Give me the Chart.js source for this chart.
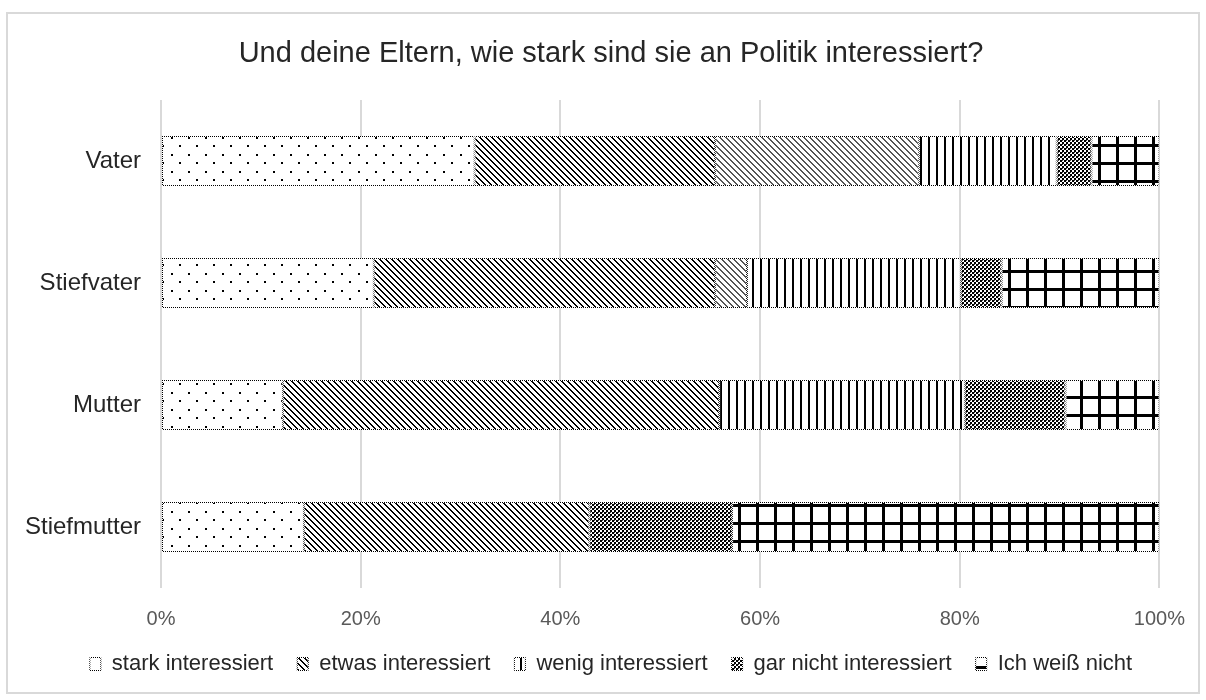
<!DOCTYPE html>
<html>
<head>
<meta charset="utf-8">
<script src="https://cdn.jsdelivr.net/npm/chart.js@4.4.1/dist/chart.umd.min.js"></script>
<style>
  html, body { margin: 0; padding: 0; background: #ffffff; }
  #frame { position: absolute; left: 6px; top: 12px; width: 1194px; height: 682px; border: 2px solid #d9d9d9; box-sizing: border-box; }
  #wrap { position: absolute; left: 0; top: 0; width: 1206px; height: 700px; }
</style>
</head>
<body>
<div id="frame"></div>
<div id="wrap"><canvas id="c" width="1206" height="700"></canvas></div>
<script>
// ---- data (percent of respondents) ----
const categories = ['Vater', 'Stiefvater', 'Mutter', 'Stiefmutter'];
const starkInteressiert = [31.4, 21.3, 12.2, 14.3];
const etwasInteressiert = [24.1, 34.2, 43.7, 28.6];
const zusatzSegment = [20.4, 3.2, null, null];   // lighter hatched block without legend entry
const wenigInteressiert = [13.8, 21.4, 24.6, null];
const garNichtInteressiert = [3.5, 4.1, 10.1, 14.3];
const ichWeissNicht = [6.8, 15.8, 9.4, 42.8];
const seriesLabels = ['stark interessiert', 'etwas interessiert', '', 'wenig interessiert', 'gar nicht interessiert', 'Ich weiß nicht'];
const tickLabels = ['0%', '20%', '40%', '60%', '80%', '100%'];
const titleText = 'Und deine Eltern, wie stark sind sie an Politik interessiert?';

// ---- pattern helpers ----
function makeTile(w, h, draw) {
  const t = document.createElement('canvas');
  t.width = w; t.height = h;
  const g = t.getContext('2d');
  g.fillStyle = '#ffffff';
  g.fillRect(0, 0, w, h);
  draw(g);
  return document.getElementById('c').getContext('2d').createPattern(t, 'repeat');
}
const patDots = makeTile(17, 17, g => {
  g.fillStyle = '#000';
  g.fillRect(1, 1, 2, 2);
  g.fillRect(9, 9, 2, 2);
});
function diag(color, size, run) {
  return makeTile(size, size, g => {
    g.fillStyle = color;
    for (let y = 0; y < size; y++) {
      for (let k = 0; k < run; k++) g.fillRect((y + k) % size, y, 1, 1);
    }
  });
}
const patDiag = diag('#000', 6, 2);
const patDiagLight = diag('#555', 6, 2);
const patVert = makeTile(8, 8, g => {
  g.fillStyle = '#000';
  g.fillRect(0, 0, 2, 8);
});
const patChecker = makeTile(4, 4, g => {
  g.fillStyle = '#000';
  g.fillRect(0, 0, 2, 2);
  g.fillRect(2, 2, 2, 2);
  g.fillStyle = '#444';
  g.fillRect(2, 0, 1, 1);
});
const patGrid = makeTile(18, 18, g => {
  g.fillStyle = '#000';
  g.fillRect(0, 0, 3, 18);
  g.fillRect(0, 0, 18, 3);
});
const patBorder = (function () {
  const t = document.createElement('canvas');
  t.width = 2; t.height = 2;
  const g = t.getContext('2d');
  g.fillStyle = '#ffffff'; g.fillRect(0, 0, 2, 2);
  g.fillStyle = '#000'; g.fillRect(0, 0, 1, 1); g.fillRect(1, 1, 1, 1);
  return document.getElementById('c').getContext('2d').createPattern(t, 'repeat');
})();

const seriesData = [starkInteressiert, etwasInteressiert, zusatzSegment, wenigInteressiert, garNichtInteressiert, ichWeissNicht];
const seriesFill = [patDots, patDiag, patDiagLight, patVert, patChecker, patGrid];

const datasets = seriesData.map((d, i) => ({
  label: seriesLabels[i],
  data: d,
  backgroundColor: seriesFill[i],
  borderColor: patBorder,
  borderWidth: 1,
  borderSkipped: false,
  barPercentage: 0.41,
  categoryPercentage: 1.0
}));

const FONT = '"Liberation Sans", Arial, sans-serif';

new Chart(document.getElementById('c'), {
  type: 'bar',
  data: { labels: categories, datasets },
  options: {
    indexAxis: 'y',
    responsive: false,
    animation: false,
    layout: { padding: { left: 16, right: 0, top: 0, bottom: 15 } },
    plugins: {
      tooltip: { enabled: false },
      title: {
        display: true,
        text: titleText,
        color: '#262626',
        font: { family: FONT, size: 29, weight: 'normal' },
        padding: { top: 36.6, bottom: 28.6 }
      },
      legend: {
        position: 'bottom',
        labels: {
          filter: item => item.text !== '',
          color: '#262626',
          font: { family: FONT, size: 22 },
          boxWidth: 11,
          boxHeight: 13,
          padding: 24
        }
      }
    },
    scales: {
      x: {
        stacked: true,
        min: 0,
        max: 100,
        ticks: {
          stepSize: 20,
          padding: 21,
          color: '#595959',
          font: { family: FONT, size: 20, lineHeight: 1.0 },
          callback: v => tickLabels[Math.round(v / 20)]
        },
        grid: { color: '#d9d9d9', lineWidth: 2, drawTicks: false },
        border: { display: false },
        afterFit: s => { s.height = 41; }
      },
      y: {
        stacked: true,
        ticks: {
          padding: 20,
          color: '#262626',
          font: { family: FONT, size: 24 }
        },
        grid: { display: false, drawTicks: false },
        border: { display: false },
        afterFit: s => { s.width = 145; }
      },
      rightSpace: {
        type: 'category',
        axis: 'y',
        position: 'right',
        display: true,
        ticks: { display: false },
        grid: { display: false, drawTicks: false },
        border: { display: false },
        afterFit: s => { s.width = 45; }
      }
    }
  }
});
</script>
</body>
</html>
